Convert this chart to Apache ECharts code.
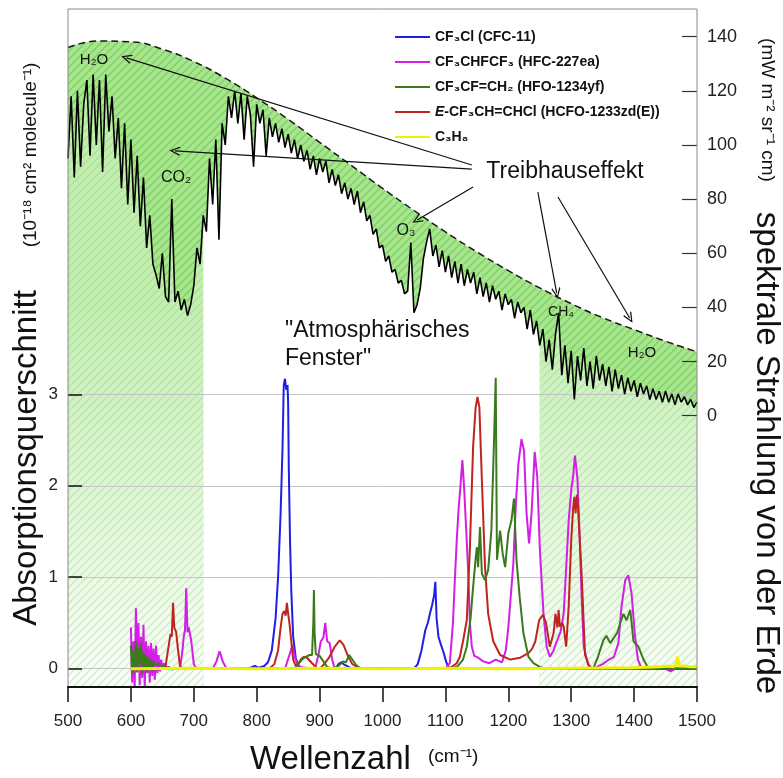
<!DOCTYPE html>
<html>
<head>
<meta charset="utf-8">
<script src="https://cdn.jsdelivr.net/npm/echarts@6/dist/echarts.min.js"></script>
<style>
  html, body { margin: 0; padding: 0; background: #ffffff; }
  #chart { width: 783px; height: 778px; }
</style>
</head>
<body>
<div id="chart"></div>
<script>
// Outgoing spectral radiance of the Earth, sampled every 5 cm^-1 from 500 to 1500 cm^-1
const spectrumStart = 500;
const spectrumStep = 5;
const spectrumRadiance = [
  95, 118, 88, 120, 92, 115, 124, 96, 126, 100,
  124, 90, 126, 105, 118, 95, 110, 84, 108, 78,
  102, 75, 96, 70, 88, 62, 74, 56, 52, 47,
  60, 44, 42, 80, 42, 46, 39, 43, 37, 41,
  48, 62, 56, 74, 68, 95, 78, 102, 65, 108,
  100, 118, 110, 120, 108, 119, 102, 118, 111, 92,
  115, 108, 113, 96, 110, 103, 108, 101, 106, 99,
  104, 97, 102, 95, 100, 94, 98, 91, 96, 89,
  95, 90, 94, 86, 91, 85, 89, 82, 86, 80,
  84, 78, 83, 75, 79, 72, 74, 67, 69, 62,
  63, 57, 59, 53, 54, 49, 50, 45, 46, 64,
  38, 41, 47, 58, 64, 69, 59, 63, 55, 61,
  53, 59, 51, 57, 49, 56, 48, 54, 49, 53,
  45, 51, 44, 49, 42, 48, 43, 46, 39, 45,
  41, 43, 36, 42, 38, 40, 32, 39, 30, 35,
  26, 32, 20, 28, 17, 30, 38, 15, 26, 12,
  24, 6, 22, 13, 25, 11, 20, 10, 22, 13,
  19, 11, 18, 9, 17, 10, 15, 8, 14, 9,
  13, 7, 12, 8, 11, 6, 10, 6, 9, 5,
  9, 5, 8, 4, 8, 5, 7, 4, 6, 3,
  5
];

// Dashed envelope: emission of a surface without atmosphere
const envelopeWavenumber = [500, 550, 600, 650, 700, 750, 800, 850, 900, 950, 1000,
  1050, 1100, 1150, 1200, 1250, 1300, 1350, 1400, 1450, 1500];
const envelopeRadiance = [136, 138.4, 138.1, 135.4, 130.8, 124.7, 117.4, 109.5, 101, 92.5, 84,
  75.8, 67.9, 60.5, 53.6, 47.2, 41.4, 36.2, 31.8, 27.5, 23.6];

// Edges of the atmospheric window (cm^-1)
const windowEdges = [715, 1250];

// Absorption cross sections, 10^-18 cm^2 molecule^-1
const cfc11 = [[600,0.02],[604,0.04],[608,0.0],[612,0.03],[618,0.01],[624,0.03],[630,0.0],[636,0.02],
  [644,0.0],[652,0.02],[660,0.0],[700,0.0],[780,0.0],[790,0.01],[797,0.03],[803,0.01],[812,0.03],
  [818,0.07],[824,0.2],[830,0.55],[834,1.0],[838,1.7],[841,2.4],[843,3.1],[845,3.17],[847,3.05],
  [849,3.1],[850,2.9],[851,2.2],[853,1.4],[855,0.85],[858,0.35],[862,0.12],[866,0.04],[872,0.0],
  [925,0.0],[930,0.05],[934,0.07],[938,0.05],[941,0.07],[946,0.02],[952,0.0],[1050,0.0],[1056,0.05],
  [1062,0.2],[1068,0.42],[1072,0.5],[1076,0.62],[1079,0.7],[1082,0.8],[1084,0.95],[1086,0.55],
  [1089,0.35],[1093,0.26],[1097,0.18],[1101,0.08],[1105,0.01],[1110,0.0],[1500,0.0]];

const hfc227ea = [[600,0.45],[602,-0.15],[604,0.3],[606,-0.2],[608,0.66],[610,0.05],[612,0.5],
  [614,-0.18],[616,0.35],[618,-0.1],[620,0.48],[622,-0.2],[624,0.3],[626,-0.05],[628,0.25],
  [630,-0.15],[632,0.28],[634,-0.08],[636,0.22],[638,-0.12],[640,0.25],[642,-0.05],[644,0.15],
  [646,-0.03],[648,0.1],[650,0.02],[652,0.06],[656,0.02],[660,0.0],[678,0.0],[682,0.2],[684,0.35],
  [686,0.42],[688,0.88],[690,0.4],[692,0.45],[696,0.3],[700,0.05],[704,0.0],[730,0.0],[736,0.08],
  [741,0.19],[746,0.08],[752,0.0],[845,0.0],[852,0.15],[857,0.26],[861,0.12],[866,0.02],[893,0.0],
  [898,0.15],[902,0.3],[906,0.34],[909,0.5],[912,0.3],[916,0.28],[920,0.1],[924,0.0],[1100,0.0],
  [1107,0.06],[1112,0.5],[1115,0.97],[1118,1.4],[1121,1.75],[1124,2.0],[1127,2.28],[1130,1.95],
  [1133,1.93],[1136,1.1],[1139,0.5],[1142,0.24],[1146,0.14],[1152,0.12],[1160,0.08],[1170,0.06],
  [1180,0.1],[1190,0.07],[1196,0.2],[1200,0.45],[1204,0.8],[1208,1.15],[1212,1.8],[1216,2.24],
  [1221,2.51],[1225,2.38],[1229,1.7],[1233,1.37],[1237,1.7],[1242,2.37],[1246,2.1],[1250,1.33],
  [1256,0.6],[1261,0.24],[1266,0.13],[1272,0.2],[1277,0.3],[1283,0.4],[1288,0.6],[1292,1.1],
  [1296,1.62],[1300,1.95],[1303,2.1],[1306,2.33],[1310,2.07],[1314,1.33],[1317,0.7],[1320,0.24],
  [1327,0.04],[1335,0.0],[1350,0.05],[1360,0.1],[1368,0.13],[1375,0.28],[1380,0.68],[1386,0.97],
  [1391,1.02],[1396,0.82],[1401,0.39],[1406,0.1],[1412,0.0],[1450,0.0],[1458,-0.03],[1465,0.0],
  [1500,0.0]];

const hfo1234yf = [[600,0.25],[602,-0.05],[604,0.2],[606,0.0],[608,0.3],[610,-0.04],[612,0.22],
  [614,0.05],[616,0.28],[618,-0.06],[620,0.18],[622,0.0],[624,0.15],[626,-0.04],[628,0.12],
  [630,0.02],[632,0.1],[634,-0.03],[636,0.08],[640,0.04],[644,0.06],[648,0.01],[652,0.03],
  [656,0.0],[660,0.02],[665,-0.01],[670,0.0],[860,0.0],[866,0.05],[872,0.1],[878,0.13],[884,0.15],
  [888,0.15],[890,0.5],[891,0.86],[892,0.4],[894,0.16],[900,0.14],[906,0.08],[912,0.02],[920,0.0],
  [930,0.03],[937,0.08],[942,0.07],[947,0.15],[952,0.1],[958,0.04],[965,0.0],[1110,0.0],[1120,0.03],
  [1128,0.1],[1134,0.24],[1140,0.55],[1144,0.89],[1148,1.2],[1150,1.33],[1152,1.11],[1155,1.55],
  [1158,1.04],[1163,0.97],[1168,1.08],[1173,1.5],[1177,2.42],[1180,3.18],[1182,1.19],[1187,1.51],
  [1191,1.26],[1195,1.11],[1200,1.48],[1205,1.62],[1209,1.86],[1213,1.19],[1218,0.79],[1224,0.39],
  [1232,0.13],[1240,0.06],[1250,0.02],[1258,0.0],[1335,0.0],[1342,0.12],[1351,0.31],[1356,0.36],
  [1362,0.28],[1368,0.34],[1373,0.39],[1378,0.5],[1383,0.6],[1388,0.53],[1394,0.64],[1399,0.3],
  [1407,0.24],[1415,0.1],[1423,0.0],[1500,0.0]];

const hcfo1233zd = [[600,0.0],[640,0.0],[655,0.02],[660,0.25],[663,0.38],[665,0.35],[667,0.72],
  [669,0.45],[672,0.4],[675,0.2],[678,0.03],[682,0.0],[820,0.0],[828,0.05],[834,0.2],[838,0.45],
  [841,0.6],[844,0.63],[846,0.58],[848,0.72],[850,0.6],[852,0.5],[855,0.3],[858,0.1],[862,0.03],
  [866,0.05],[870,0.1],[875,0.13],[880,0.12],[888,0.06],[895,0.01],[900,0.0],[906,0.04],[915,0.12],
  [924,0.24],[932,0.31],[938,0.26],[945,0.14],[952,0.05],[960,0.02],[970,0.0],[1100,0.0],
  [1110,0.02],[1118,0.06],[1123,0.13],[1128,0.3],[1134,0.53],[1139,1.33],[1144,2.42],[1148,2.85],
  [1151,2.97],[1154,2.86],[1158,2.06],[1163,1.11],[1168,0.6],[1176,0.3],[1187,0.15],[1203,0.1],
  [1219,0.12],[1232,0.17],[1238,0.22],[1243,0.3],[1249,0.53],[1255,0.59],[1260,0.5],[1266,0.24],
  [1272,0.39],[1275,0.6],[1278,0.45],[1280,0.64],[1282,0.46],[1286,0.5],[1288,0.46],[1292,0.24],
  [1296,0.68],[1300,1.4],[1303,1.75],[1305,1.88],[1307,1.7],[1309,1.9],[1311,1.75],[1313,1.77],
  [1317,0.97],[1322,0.15],[1330,0.0],[1500,0.0]];

const propane = [[600,0.0],[700,0.005],[800,0.0],[900,0.005],[1000,0.0],[1100,0.005],[1200,0.0],
  [1300,0.005],[1400,0.01],[1440,0.02],[1455,0.03],[1462,0.02],[1466,0.04],[1469,0.13],[1472,0.03],
  [1480,0.03],[1490,0.02],[1500,0.02]];

const seriesNames = ['CF₃Cl (CFC-11)', 'CF₃CHFCF₃ (HFC-227ea)', 'CF₃CF=CH₂ (HFO-1234yf)',
  'E-CF₃CH=CHCl (HCFO-1233zd(E))', 'C₃H₈'];

// Arrows from the "Treibhauseffekt" label: [x0, y0, x1, y1] in (cm^-1, radiance)
const arrowPaths = [
  [1142, 92.6, 593, 132.2],
  [1142, 91.1, 670, 97.8],
  [1144, 84.5, 1055, 72.3],
  [1247, 82.6, 1277, 45.3],
  [1279, 80.8, 1393, 36.1]
];

const FONT = "'Liberation Sans', Arial, sans-serif";

// striped fill tiles (lines rising to the right)
function hatchTile(bg, fg, size, width) {
  const c = document.createElement('canvas');
  c.width = size; c.height = size;
  const g = c.getContext('2d');
  if (bg) { g.fillStyle = bg; g.fillRect(0, 0, size, size); }
  g.strokeStyle = fg; g.lineWidth = width;
  g.beginPath();
  for (const k of [-size, 0, size]) { g.moveTo(k, size); g.lineTo(k + size, 0); }
  g.stroke();
  return c;
}

const greenHatch = { image: hatchTile('#a6e78d', '#88d06e', 8, 1.6), repeat: 'repeat' };
const paleHatch = { image: hatchTile(null, 'rgba(110,185,90,0.22)', 8, 1.6), repeat: 'repeat' };
const paleGreen = new echarts.graphic.LinearGradient(0, 290, 0, 690, [
  { offset: 0, color: '#c2eeb0' },
  { offset: 1, color: '#fbfefa' }
], true);

const spectrumPoints = spectrumRadiance.map((v, i) => [spectrumStart + i * spectrumStep, v]);
const iL = spectrumPoints.findIndex(p => p[0] === windowEdges[0]);
const iR = spectrumPoints.findIndex(p => p[0] === windowEdges[1]);
const leftPart = spectrumPoints.slice(0, iL + 1);
const windowPart = spectrumPoints.slice(iL, iR + 1);
const rightPart = spectrumPoints.slice(iR);
const envelopePoints = envelopeWavenumber.map((x, i) => [x, envelopeRadiance[i]]);

function fill(data, color, z, smooth) {
  return {
    type: 'line', xAxisIndex: 2, yAxisIndex: 2, data, symbol: 'none', silent: true,
    clip: false, z, smooth: !!smooth, lineStyle: { opacity: 0 },
    areaStyle: { color, opacity: 1, origin: -100 }, emphasis: { disabled: true }
  };
}

function absorption(name, data, color, width) {
  return {
    name, type: 'line', xAxisIndex: 1, yAxisIndex: 1, data, symbol: 'none', showSymbol: false,
    clip: false, z: 5, lineStyle: { color, width }, itemStyle: { color },
    emphasis: { disabled: true }, silent: true
  };
}

// open V arrow head
const openArrow = 'path://M5,0 L10,9 L9,10 L5,2.6 L1,10 L0,9 Z';

const chart = echarts.init(document.getElementById('chart'), null, { renderer: 'canvas' });

chart.setOption({
  animation: false,
  backgroundColor: '#ffffff',
  textStyle: { fontFamily: FONT },
  grid: [
    { left: 68, right: 86, top: 9, bottom: 91, show: true, borderColor: '#8a8a8a', borderWidth: 1, z: 6 },
    { left: 68, right: 86, top: 394.3, bottom: 109.3 },
    { left: 68, right: 86, top: 36.7, bottom: 362.3 }
  ],
  xAxis: [
    {
      gridIndex: 0, type: 'value', min: 500, max: 1500, interval: 100, z: 6,
      axisLine: { lineStyle: { color: '#111', width: 2 } },
      axisTick: { inside: false, length: 15, lineStyle: { color: '#111', width: 1.5 } },
      axisLabel: { fontSize: 17, color: '#222', margin: 26, fontFamily: FONT, formatter: v => String(v) },
      splitLine: { show: false }
    },
    { gridIndex: 1, type: 'value', min: 500, max: 1500, show: false },
    { gridIndex: 2, type: 'value', min: 500, max: 1500, show: false }
  ],
  yAxis: [
    { gridIndex: 0, type: 'value', min: 0, max: 1, show: false },
    {
      gridIndex: 1, type: 'value', min: 0, max: 3, interval: 1, position: 'left', z: 3,
      axisLine: { show: false },
      axisTick: { show: true, inside: true, length: 14, lineStyle: { color: '#111', width: 1.5 } },
      axisLabel: { fontSize: 17, color: '#222', margin: 10, fontFamily: FONT },
      splitLine: { show: true, lineStyle: { color: '#c4c4c4', width: 1 } }
    },
    {
      gridIndex: 2, type: 'value', min: 0, max: 140, interval: 20, position: 'right', z: 3,
      axisLine: { show: false },
      axisTick: { show: true, inside: true, length: 15, lineStyle: { color: '#333', width: 1.2 } },
      axisLabel: { fontSize: 18, color: '#222', margin: 10, fontFamily: FONT },
      splitLine: { show: false }
    }
  ],
  legend: {
    data: seriesNames,
    orient: 'vertical', left: 390, top: 25,
    icon: 'rect', itemWidth: 35, itemHeight: 2, itemGap: 11,
    selectedMode: false,
    textStyle: {
      fontSize: 14, fontWeight: 'bold', color: '#111', fontFamily: FONT,
      rich: { i: { fontSize: 14, fontWeight: 'bold', fontStyle: 'italic', color: '#111', fontFamily: FONT } }
    },
    formatter: name => name.startsWith('E-') ? '{i|E}' + name.slice(1) : name
  },
  series: [
    // green band between surface emission and the measured spectrum
    fill(envelopePoints, greenHatch, 1, true),
    // below the spectrum: pale green outside the window, white inside
    fill(leftPart, paleGreen, 2),
    fill(rightPart, paleGreen, 2),
    fill(windowPart, '#ffffff', 2),
    fill(leftPart, paleHatch, 2),
    fill(rightPart, paleHatch, 2),
    {
      type: 'line', xAxisIndex: 2, yAxisIndex: 2, data: spectrumPoints, symbol: 'none',
      silent: true, z: 4, lineStyle: { color: '#000', width: 1.6 }, emphasis: { disabled: true }
    },
    {
      type: 'line', xAxisIndex: 2, yAxisIndex: 2, data: envelopePoints, symbol: 'none', smooth: true,
      silent: true, z: 4, lineStyle: { color: '#1a1a1a', width: 1.5, type: [7, 4] },
      emphasis: { disabled: true },
      markLine: {
        silent: true, symbol: ['none', openArrow], symbolSize: [9, 11], animation: false,
        lineStyle: { color: '#111', width: 1.2, type: 'solid' }, label: { show: false },
        emphasis: { disabled: true },
        data: arrowPaths.map(a => [{ coord: [a[0], a[1]] }, { coord: [a[2], a[3]] }])
      }
    },
    absorption(seriesNames[0], cfc11, '#1f1fe6', 2),
    absorption(seriesNames[1], hfc227ea, '#d21ee6', 2),
    absorption(seriesNames[3], hcfo1233zd, '#c02420', 2),
    absorption(seriesNames[2], hfo1234yf, '#3a7a1c', 2),
    absorption(seriesNames[4], propane, '#f0f000', 3)
  ],
  graphic: [
    { type: 'text', x: 94, y: 60, z: 10, style: { text: 'H₂O', font: '15px ' + FONT, fill: '#111', align: 'center', verticalAlign: 'middle' } },
    { type: 'text', x: 176, y: 178, z: 10, style: { text: 'CO₂', font: '16px ' + FONT, fill: '#111', align: 'center', verticalAlign: 'middle' } },
    { type: 'text', x: 406, y: 231, z: 10, style: { text: 'O₃', font: '16px ' + FONT, fill: '#111', align: 'center', verticalAlign: 'middle' } },
    { type: 'text', x: 561, y: 312, z: 10, style: { text: 'CH₄', font: '14px ' + FONT, fill: '#111', align: 'center', verticalAlign: 'middle' } },
    { type: 'text', x: 642, y: 353, z: 10, style: { text: 'H₂O', font: '15px ' + FONT, fill: '#111', align: 'center', verticalAlign: 'middle' } },
    { type: 'text', x: 565, y: 172, z: 10, style: { text: 'Treibhauseffekt', font: '23px ' + FONT, fill: '#111', align: 'center', verticalAlign: 'middle' } },
    { type: 'text', x: 285, y: 331, z: 10, style: { text: '"Atmosphärisches', font: '23px ' + FONT, fill: '#111', align: 'left', verticalAlign: 'middle' } },
    { type: 'text', x: 285, y: 359, z: 10, style: { text: 'Fenster"', font: '23px ' + FONT, fill: '#111', align: 'left', verticalAlign: 'middle' } },
    { type: 'text', x: 27, y: 458, rotation: Math.PI / 2, z: 10, style: { text: 'Absorptionsquerschnitt', font: '33px ' + FONT, fill: '#111', align: 'center', verticalAlign: 'middle' } },
    { type: 'text', x: 31, y: 155, rotation: Math.PI / 2, z: 10, style: { text: '(10⁻¹⁸ cm² molecule⁻¹)', font: '19px ' + FONT, fill: '#111', align: 'center', verticalAlign: 'middle' } },
    { type: 'text', x: 767, y: 110, rotation: -Math.PI / 2, z: 10, style: { text: '(mW m⁻² sr⁻¹ cm)', font: '19px ' + FONT, fill: '#111', align: 'center', verticalAlign: 'middle' } },
    { type: 'text', x: 766, y: 453, rotation: -Math.PI / 2, z: 10, style: { text: 'spektrale Strahlung von der Erde', font: '33px ' + FONT, fill: '#111', align: 'center', verticalAlign: 'middle' } },
    { type: 'text', x: 250, y: 760, z: 10, style: { text: 'Wellenzahl', font: '33px ' + FONT, fill: '#111', align: 'left', verticalAlign: 'middle' } },
    { type: 'text', x: 428, y: 757, z: 10, style: { text: '(cm⁻¹)', font: '19px ' + FONT, fill: '#111', align: 'left', verticalAlign: 'middle' } }
  ]
});
</script>
</body>
</html>
